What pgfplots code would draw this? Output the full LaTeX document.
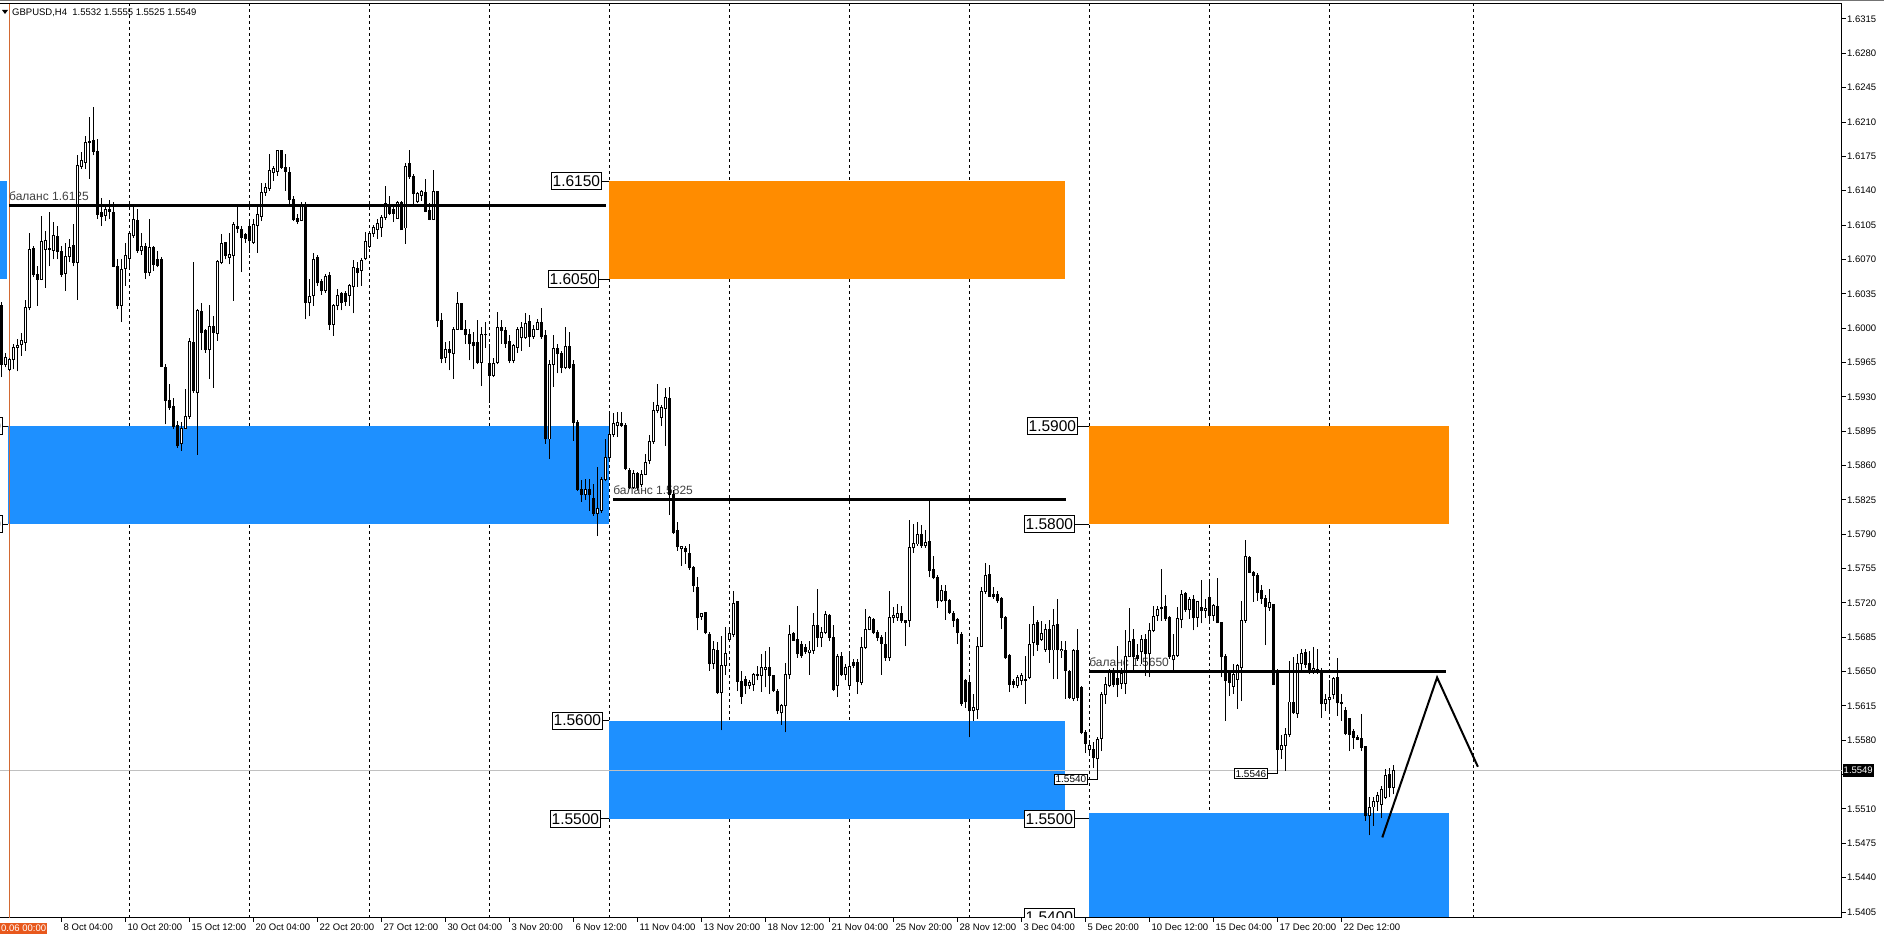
\documentclass[border=0pt]{standalone}
\usepackage{fontspec}
\setmainfont{Liberation Sans}
\usepackage{pgfplots}
\usepackage{pgfplotstable}
\pgfplotsset{compat=1.18}
\definecolor{mtblue}{RGB}{30,144,255}
\definecolor{mtorange}{RGB}{255,140,0}
\definecolor{sepline}{RGB}{210,105,50}
\definecolor{timebox}{RGB}{232,88,28}
\definecolor{bidline}{RGB}{192,192,192}

\pgfplotstableread{
i o h l c
-2 1.6023 1.6027 1.5950 1.5963
-1 1.5963 1.5975 1.5960 1.5970
0 1.5958 1.5970 1.5956 1.5968
1 1.5968 1.5984 1.5958 1.5980
2 1.5980 1.5989 1.5956 1.5982
3 1.5983 1.5995 1.5972 1.5987
4 1.5985 1.6029 1.5977 1.6021
5 1.6021 1.6097 1.6018 1.6080
6 1.6081 1.6084 1.6052 1.6055
7 1.6055 1.6063 1.6023 1.6050
8 1.6050 1.6114 1.6049 1.6088
9 1.6080 1.6099 1.6041 1.6089
10 1.6081 1.6118 1.6063 1.6080
11 1.6079 1.6108 1.6070 1.6094
12 1.6093 1.6104 1.6070 1.6078
13 1.6078 1.6084 1.6052 1.6055
14 1.6056 1.6087 1.6038 1.6073
15 1.6073 1.6091 1.6067 1.6082
16 1.6084 1.6106 1.6063 1.6067
17 1.6067 1.6176 1.6029 1.6166
18 1.6165 1.6179 1.6162 1.6171
19 1.6169 1.6196 1.6162 1.6189
20 1.6189 1.6215 1.6152 1.6190
21 1.6191 1.6225 1.6176 1.6180
22 1.6180 1.6193 1.6111 1.6116
23 1.6118 1.6133 1.6104 1.6114
24 1.6115 1.6125 1.6109 1.6121
25 1.6121 1.6131 1.6111 1.6119
26 1.6118 1.6128 1.6062 1.6063
27 1.6063 1.6070 1.6019 1.6023
28 1.6023 1.6070 1.6006 1.6060
29 1.6061 1.6087 1.6043 1.6074
30 1.6071 1.6097 1.6060 1.6096
31 1.6094 1.6123 1.6092 1.6111
32 1.6110 1.6121 1.6077 1.6079
33 1.6079 1.6097 1.6075 1.6083
34 1.6083 1.6087 1.6050 1.6057
35 1.6057 1.6111 1.6053 1.6082
36 1.6082 1.6084 1.6058 1.6065
37 1.6070 1.6079 1.6062 1.6064
38 1.6070 1.6072 1.5960 1.5961
39 1.5960 1.5963 1.5902 1.5926
40 1.5926 1.5943 1.5917 1.5919
41 1.5920 1.5929 1.5897 1.5900
42 1.5901 1.5905 1.5878 1.5880
43 1.5882 1.5904 1.5875 1.5898
44 1.5898 1.5938 1.5897 1.5910
45 1.5910 1.5990 1.5907 1.5986
46 1.5985 1.6067 1.5934 1.5936
47 1.5934 1.6019 1.5871 1.6018
48 1.6017 1.6026 1.5978 1.5996
49 1.5998 1.5999 1.5975 1.5978
50 1.5978 1.6024 1.5948 1.6002
51 1.6002 1.6012 1.5939 1.5996
52 1.5995 1.6069 1.5987 1.6068
53 1.6067 1.6096 1.6065 1.6086
54 1.6087 1.6088 1.6070 1.6074
55 1.6072 1.6097 1.6065 1.6075
56 1.6074 1.6108 1.6028 1.6106
57 1.6104 1.6123 1.6097 1.6101
58 1.6101 1.6104 1.6057 1.6092
59 1.6095 1.6097 1.6087 1.6091
60 1.6104 1.6108 1.6077 1.6089
61 1.6087 1.6111 1.6086 1.6106
62 1.6105 1.6123 1.6077 1.6116
63 1.6114 1.6148 1.6109 1.6138
64 1.6138 1.6148 1.6135 1.6143
65 1.6142 1.6177 1.6140 1.6161
66 1.6159 1.6165 1.6150 1.6163
67 1.6160 1.6182 1.6155 1.6181
68 1.6181 1.6182 1.6162 1.6164
69 1.6164 1.6177 1.6140 1.6160
70 1.6159 1.6164 1.6125 1.6131
71 1.6131 1.6135 1.6109 1.6111
72 1.6112 1.6116 1.6106 1.6109
73 1.6110 1.6128 1.6109 1.6126
74 1.6126 1.6128 1.6009 1.6026
75 1.6026 1.6050 1.6012 1.6032
76 1.6033 1.6077 1.6023 1.6070
77 1.6072 1.6074 1.6043 1.6046
78 1.6048 1.6050 1.6034 1.6038
79 1.6038 1.6055 1.6036 1.6053
80 1.6054 1.6057 1.5998 1.6004
81 1.6004 1.6025 1.5992 1.6023
82 1.6023 1.6040 1.6018 1.6033
83 1.6035 1.6037 1.6018 1.6026
84 1.6035 1.6038 1.6023 1.6027
85 1.6033 1.6045 1.6023 1.6043
86 1.6042 1.6069 1.6015 1.6062
87 1.6061 1.6067 1.6042 1.6057
88 1.6059 1.6071 1.6043 1.6069
89 1.6071 1.6098 1.6069 1.6088
90 1.6083 1.6099 1.6082 1.6096
91 1.6096 1.6105 1.6093 1.6103
92 1.6100 1.6111 1.6091 1.6107
93 1.6103 1.6115 1.6093 1.6113
94 1.6113 1.6145 1.6110 1.6127
95 1.6126 1.6135 1.6115 1.6117
96 1.6121 1.6125 1.6108 1.6117
97 1.6112 1.6130 1.6111 1.6128
98 1.6128 1.6130 1.6100 1.6100
99 1.6102 1.6168 1.6086 1.6165
100 1.6168 1.6181 1.6152 1.6154
101 1.6155 1.6157 1.6125 1.6137
102 1.6129 1.6139 1.6127 1.6137
103 1.6135 1.6141 1.6130 1.6139
104 1.6138 1.6152 1.6118 1.6119
105 1.6120 1.6127 1.6110 1.6111
106 1.6111 1.6161 1.6110 1.6139
107 1.6139 1.6140 1.6001 1.6008
108 1.6008 1.6015 1.5964 1.5969
109 1.5970 1.5986 1.5964 1.5978
110 1.5978 1.5987 1.5957 1.5975
111 1.5974 1.6001 1.5948 1.5999
112 1.5999 1.6037 1.5998 1.6025
113 1.6025 1.6025 1.5998 1.5999
114 1.5999 1.6008 1.5984 1.5993
115 1.5994 1.5999 1.5967 1.5984
116 1.5985 1.5996 1.5958 1.5982
117 1.5985 1.6008 1.5963 1.5965
118 1.5965 1.6001 1.5941 1.5993
119 1.5993 1.6006 1.5980 1.5994
120 1.5964 1.5984 1.5924 1.5952
121 1.5952 1.5970 1.5950 1.5964
122 1.5965 1.6016 1.5963 1.6001
123 1.6001 1.6008 1.5984 1.5998
124 1.5998 1.6001 1.5980 1.5984
125 1.5986 1.5993 1.5964 1.5967
126 1.5967 1.5984 1.5964 1.5982
127 1.5980 1.6001 1.5975 1.5999
128 1.5990 1.6006 1.5977 1.6001
129 1.5990 1.6015 1.5989 1.6005
130 1.6007 1.6013 1.5981 1.5991
131 1.5991 1.6003 1.5989 1.5999
132 1.5999 1.6009 1.5998 1.6006
133 1.6006 1.6020 1.5989 1.5991
134 1.5992 1.5998 1.5882 1.5887
135 1.5887 1.5967 1.5867 1.5963
136 1.5963 1.5993 1.5940 1.5979
137 1.5979 1.5984 1.5954 1.5974
138 1.5974 1.5977 1.5954 1.5960
139 1.5960 1.6001 1.5958 1.5981
140 1.5981 1.5996 1.5958 1.5960
141 1.5963 1.5967 1.5885 1.5904
142 1.5904 1.5906 1.5834 1.5836
143 1.5836 1.5845 1.5823 1.5830
144 1.5830 1.5846 1.5825 1.5836
145 1.5836 1.5846 1.5814 1.5830
146 1.5826 1.5841 1.5809 1.5811
147 1.5811 1.5858 1.5788 1.5816
148 1.5814 1.5848 1.5812 1.5846
149 1.5846 1.5887 1.5844 1.5868
150 1.5868 1.5913 1.5866 1.5892
151 1.5892 1.5913 1.5889 1.5903
152 1.5901 1.5915 1.5889 1.5904
153 1.5903 1.5915 1.5899 1.5901
154 1.5901 1.5903 1.5855 1.5857
155 1.5855 1.5857 1.5836 1.5838
156 1.5838 1.5855 1.5836 1.5852
157 1.5852 1.5853 1.5835 1.5838
158 1.5841 1.5855 1.5838 1.5851
159 1.5851 1.5872 1.5850 1.5863
160 1.5865 1.5891 1.5862 1.5884
161 1.5884 1.5925 1.5882 1.5916
162 1.5916 1.5943 1.5913 1.5921
163 1.5909 1.5922 1.5900 1.5919
164 1.5918 1.5939 1.5880 1.5929
165 1.5928 1.5940 1.5810 1.5830
166 1.5830 1.5835 1.5790 1.5792
167 1.5794 1.5802 1.5773 1.5777
168 1.5775 1.5778 1.5758 1.5777
169 1.5775 1.5778 1.5760 1.5772
170 1.5770 1.5780 1.5754 1.5756
171 1.5756 1.5758 1.5731 1.5738
172 1.5736 1.5746 1.5692 1.5705
173 1.5706 1.5710 1.5703 1.5709
174 1.5710 1.5710 1.5688 1.5690
175 1.5688 1.5690 1.5651 1.5658
176 1.5658 1.5681 1.5653 1.5673
177 1.5672 1.5680 1.5627 1.5629
178 1.5629 1.5686 1.5590 1.5656
179 1.5656 1.5695 1.5647 1.5668
180 1.5683 1.5695 1.5680 1.5689
181 1.5688 1.5732 1.5685 1.5719
182 1.5721 1.5722 1.5630 1.5640
183 1.5640 1.5651 1.5617 1.5625
184 1.5642 1.5646 1.5627 1.5636
185 1.5636 1.5641 1.5632 1.5639
186 1.5637 1.5649 1.5630 1.5647
187 1.5646 1.5656 1.5641 1.5647
188 1.5646 1.5668 1.5629 1.5654
189 1.5652 1.5671 1.5634 1.5654
190 1.5654 1.5675 1.5627 1.5646
191 1.5646 1.5647 1.5629 1.5631
192 1.5630 1.5632 1.5607 1.5610
193 1.5608 1.5617 1.5596 1.5615
194 1.5615 1.5659 1.5588 1.5647
195 1.5647 1.5697 1.5642 1.5688
196 1.5689 1.5690 1.5681 1.5682
197 1.5683 1.5717 1.5664 1.5668
198 1.5678 1.5681 1.5664 1.5666
199 1.5675 1.5678 1.5668 1.5670
200 1.5669 1.5681 1.5647 1.5672
201 1.5671 1.5710 1.5668 1.5697
202 1.5697 1.5734 1.5675 1.5685
203 1.5685 1.5695 1.5675 1.5690
204 1.5690 1.5712 1.5688 1.5708
205 1.5707 1.5709 1.5681 1.5685
206 1.5685 1.5697 1.5630 1.5632
207 1.5636 1.5668 1.5624 1.5665
208 1.5665 1.5670 1.5646 1.5647
209 1.5647 1.5658 1.5641 1.5654
210 1.5636 1.5668 1.5632 1.5655
211 1.5659 1.5663 1.5654 1.5656
212 1.5659 1.5663 1.5627 1.5640
213 1.5639 1.5685 1.5636 1.5675
214 1.5675 1.5714 1.5673 1.5693
215 1.5693 1.5707 1.5692 1.5705
216 1.5703 1.5705 1.5688 1.5690
217 1.5690 1.5692 1.5681 1.5685
218 1.5685 1.5687 1.5647 1.5679
219 1.5678 1.5690 1.5661 1.5664
220 1.5664 1.5732 1.5661 1.5705
221 1.5705 1.5716 1.5700 1.5707
222 1.5705 1.5719 1.5702 1.5709
223 1.5709 1.5717 1.5700 1.5702
224 1.5702 1.5703 1.5676 1.5700
225 1.5702 1.5804 1.5695 1.5776
226 1.5776 1.5800 1.5771 1.5781
227 1.5780 1.5802 1.5778 1.5790
228 1.5790 1.5799 1.5776 1.5778
229 1.5778 1.5794 1.5776 1.5782
230 1.5783 1.5824 1.5746 1.5753
231 1.5754 1.5768 1.5744 1.5746
232 1.5746 1.5748 1.5715 1.5722
233 1.5722 1.5738 1.5721 1.5733
234 1.5732 1.5738 1.5703 1.5722
235 1.5722 1.5724 1.5709 1.5710
236 1.5709 1.5712 1.5695 1.5702
237 1.5703 1.5705 1.5678 1.5690
238 1.5688 1.5690 1.5615 1.5617
239 1.5641 1.5642 1.5613 1.5619
240 1.5639 1.5647 1.5583 1.5610
241 1.5610 1.5627 1.5600 1.5613
242 1.5611 1.5685 1.5602 1.5676
243 1.5676 1.5736 1.5675 1.5732
244 1.5732 1.5761 1.5729 1.5748
245 1.5749 1.5759 1.5726 1.5727
246 1.5729 1.5736 1.5724 1.5726
247 1.5729 1.5732 1.5720 1.5722
248 1.5724 1.5726 1.5693 1.5705
249 1.5705 1.5707 1.5663 1.5664
250 1.5666 1.5668 1.5629 1.5637
251 1.5640 1.5642 1.5633 1.5637
252 1.5636 1.5647 1.5633 1.5644
253 1.5641 1.5649 1.5636 1.5646
254 1.5641 1.5666 1.5617 1.5642
255 1.5644 1.5698 1.5642 1.5678
256 1.5680 1.5717 1.5666 1.5698
257 1.5700 1.5703 1.5671 1.5678
258 1.5683 1.5702 1.5681 1.5689
259 1.5673 1.5698 1.5670 1.5693
260 1.5693 1.5703 1.5659 1.5673
261 1.5672 1.5714 1.5642 1.5697
262 1.5698 1.5724 1.5642 1.5672
263 1.5671 1.5681 1.5664 1.5673
264 1.5672 1.5681 1.5622 1.5651
265 1.5650 1.5652 1.5622 1.5624
266 1.5623 1.5673 1.5620 1.5671
267 1.5671 1.5693 1.5620 1.5624
268 1.5634 1.5635 1.5586 1.5588
269 1.5588 1.5590 1.5567 1.5577
270 1.5571 1.5580 1.5566 1.5575
271 1.5571 1.5578 1.5552 1.5562
272 1.5561 1.5583 1.5540 1.5581
273 1.5582 1.5629 1.5569 1.5627
274 1.5627 1.5644 1.5617 1.5637
275 1.5636 1.5653 1.5634 1.5650
276 1.5650 1.5654 1.5634 1.5637
277 1.5643 1.5676 1.5624 1.5637
278 1.5638 1.5654 1.5632 1.5648
279 1.5638 1.5692 1.5627 1.5665
280 1.5665 1.5715 1.5665 1.5681
281 1.5683 1.5693 1.5651 1.5665
282 1.5666 1.5678 1.5661 1.5663
283 1.5670 1.5687 1.5658 1.5683
284 1.5683 1.5688 1.5646 1.5668
285 1.5668 1.5699 1.5644 1.5692
286 1.5692 1.5717 1.5690 1.5706
287 1.5707 1.5717 1.5702 1.5713
288 1.5714 1.5755 1.5702 1.5715
289 1.5716 1.5728 1.5702 1.5704
290 1.5705 1.5707 1.5663 1.5665
291 1.5662 1.5688 1.5649 1.5666
292 1.5666 1.5716 1.5665 1.5704
293 1.5703 1.5733 1.5694 1.5729
294 1.5730 1.5731 1.5711 1.5713
295 1.5713 1.5726 1.5704 1.5723
296 1.5723 1.5728 1.5692 1.5705
297 1.5705 1.5722 1.5695 1.5721
298 1.5715 1.5743 1.5699 1.5712
299 1.5712 1.5724 1.5705 1.5714
300 1.5725 1.5743 1.5699 1.5707
301 1.5707 1.5719 1.5702 1.5717
302 1.5716 1.5745 1.5699 1.5700
303 1.5700 1.5700 1.5644 1.5665
304 1.5665 1.5668 1.5600 1.5641
305 1.5648 1.5648 1.5625 1.5639
306 1.5635 1.5658 1.5627 1.5647
307 1.5642 1.5658 1.5612 1.5656
308 1.5654 1.5722 1.5620 1.5702
309 1.5702 1.5784 1.5700 1.5767
310 1.5766 1.5768 1.5750 1.5751
311 1.5751 1.5753 1.5721 1.5748
312 1.5748 1.5750 1.5722 1.5731
313 1.5733 1.5738 1.5719 1.5724
314 1.5724 1.5728 1.5677 1.5716
315 1.5715 1.5734 1.5712 1.5720
316 1.5718 1.5719 1.5636 1.5637
317 1.5651 1.5653 1.5546 1.5571
318 1.5571 1.5585 1.5561 1.5575
319 1.5575 1.5593 1.5549 1.5586
320 1.5586 1.5661 1.5583 1.5619
321 1.5618 1.5665 1.5607 1.5608
322 1.5607 1.5668 1.5603 1.5658
323 1.5658 1.5673 1.5651 1.5668
324 1.5669 1.5673 1.5654 1.5657
325 1.5658 1.5671 1.5648 1.5649
326 1.5649 1.5675 1.5648 1.5653
327 1.5652 1.5673 1.5648 1.5649
328 1.5651 1.5654 1.5603 1.5617
329 1.5617 1.5627 1.5610 1.5622
330 1.5622 1.5641 1.5607 1.5624
331 1.5627 1.5644 1.5622 1.5643
332 1.5644 1.5664 1.5605 1.5618
333 1.5619 1.5627 1.5600 1.5617
334 1.5610 1.5614 1.5585 1.5587
335 1.5602 1.5603 1.5569 1.5586
336 1.5589 1.5591 1.5571 1.5583
337 1.5583 1.5585 1.5580 1.5581
338 1.5582 1.5607 1.5569 1.5573
339 1.5574 1.5574 1.5498 1.5503
340 1.5503 1.5522 1.5483 1.5512
341 1.5512 1.5522 1.5493 1.5518
342 1.5518 1.5527 1.5508 1.5524
343 1.5515 1.5533 1.5501 1.5530
344 1.5522 1.5551 1.5520 1.5544
345 1.5545 1.5552 1.5522 1.5532
346 1.5532 1.5555 1.5525 1.5549
}\candles

\tikzset{
  pbox/.style={draw=black, line width=0.8pt, fill=white, font=\fontsize{15.5}{16}\selectfont, inner xsep=1.5pt, inner ysep=3pt, anchor=east},
  sbox/.style={draw=black, line width=0.6pt, fill=white, font=\fontsize{10}{10}\selectfont, inner xsep=1pt, inner ysep=1.5pt, anchor=east},
  bal/.style={anchor=base west, font=\fontsize{12}{12}\selectfont, text=black!75, inner sep=0pt, yshift=5pt},
}

\begin{document}
\begin{tikzpicture}[x=1pt,y=1pt]
\useasboundingbox (0pt,0pt) rectangle (1884pt,939pt);
\begin{axis}[
  at={(0pt,21pt)}, anchor=south west,
  scale only axis, width=1842pt, height=915pt,
  xmin=-2.375, xmax=458.125, ymin=1.53989, ymax=1.63313,
  axis x line*=bottom, axis y line*=right,
  axis line style={black, line width=1pt},
  tick align=outside, major tick length=4pt,
  tick style={black, line width=1pt},
  xtick={13,29,...,333},
  xticklabels={8 Oct 04:00,10 Oct 20:00,15 Oct 12:00,20 Oct 04:00,22 Oct 20:00,27 Oct 12:00,30 Oct 04:00,3 Nov 20:00,6 Nov 12:00,11 Nov 04:00,13 Nov 20:00,18 Nov 12:00,21 Nov 04:00,25 Nov 20:00,28 Nov 12:00,3 Dec 04:00,5 Dec 20:00,10 Dec 12:00,15 Dec 04:00,17 Dec 20:00,22 Dec 12:00},
  xticklabel style={anchor=north west, font=\fontsize{9.5}{10}\selectfont, inner sep=0pt, xshift=2pt, yshift=-2pt},
  ytick={1.5405,1.5440,1.5475,1.5510,1.5545,1.5580,1.5615,1.5650,1.5685,1.5720,1.5755,1.5790,1.5825,1.5860,1.5895,1.5930,1.5965,1.6000,1.6035,1.6070,1.6105,1.6140,1.6175,1.6210,1.6245,1.6280,1.6315},
  yticklabels={1.5405,1.5440,1.5475,1.5510,{},1.5580,1.5615,1.5650,1.5685,1.5720,1.5755,1.5790,1.5825,1.5860,1.5895,1.5930,1.5965,1.6000,1.6035,1.6070,1.6105,1.6140,1.6175,1.6210,1.6245,1.6280,1.6315},
  yticklabel style={anchor=west, font=\fontsize{9.5}{10}\selectfont, inner sep=1pt},
  extra x ticks={30,60,90,120,150,180,210,240,270,300,330,366},
  extra x tick labels={},
  extra x tick style={grid=major, major tick length=0pt},
  major grid style={black, line width=1pt, dash pattern=on 3pt off 3pt},
  scaled y ticks=false,
]
% zones
\addplot[fill=mtblue, draw=none] coordinates {(-2.375,1.6050) (-0.625,1.6050) (-0.625,1.6150) (-2.375,1.6150)};
\addplot[fill=mtblue, draw=none] coordinates {(-0.375,1.5800) (149.875,1.5800) (149.875,1.5900) (-0.375,1.5900)};
\addplot[fill=mtorange, draw=none] coordinates {(149.875,1.6050) (263.875,1.6050) (263.875,1.6150) (149.875,1.6150)};
\addplot[fill=mtblue, draw=none] coordinates {(149.875,1.5500) (263.875,1.5500) (263.875,1.5600) (149.875,1.5600)};
\addplot[fill=mtorange, draw=none] coordinates {(269.875,1.5800) (359.875,1.5800) (359.875,1.5900) (269.875,1.5900)};
\addplot[fill=mtblue, draw=none] coordinates {(269.875,1.5400) (359.875,1.5400) (359.875,1.5506) (269.875,1.5506)};
% bid line and period separator
\addplot[bidline, line width=1pt] coordinates {(-2.375,1.5549) (458.125,1.5549)};
\addplot[sepline, line width=1pt] coordinates {(0,1.53989) (0,1.63313)};
% level captions (behind candles)
\node[bal] at (axis cs:-0.125,1.6125) {баланс 1.6125};
\node[bal] at (axis cs:150.9,1.5825) {баланс 1.5825};
\node[bal] at (axis cs:269.9,1.5650) {баланс 1.5650};
% candles: wicks
\addplot[draw=none, mark=none, error bars/.cd, y dir=plus, y explicit, error mark=none,
  error bar style={draw=black, line width=1pt}]
  table[x=i, y=l, y error expr={\thisrow{h}-\thisrow{l}}] {\candles};
% candles: bodies
\addplot[draw=none, mark=none, error bars/.cd, y dir=plus, y explicit, error mark=none,
  error bar style={draw=black, line width=3pt, line cap=butt}]
  table[x=i, y expr={min(\thisrow{o},\thisrow{c})-0.00005}, y error expr={abs(\thisrow{c}-\thisrow{o})+0.0001}] {\candles};
% bullish interiors
\addplot[draw=none, mark=none, restrict expr to domain={\thisrow{c}-\thisrow{o}}{0.00015:1},
  error bars/.cd, y dir=plus, y explicit, error mark=none,
  error bar style={draw=white, line width=1pt, line cap=butt}]
  table[x=i, y expr={\thisrow{o}+0.00005}, y error expr={\thisrow{c}-\thisrow{o}-0.0001}] {\candles};
% balance lines
\addplot[black, line width=3pt] coordinates {(-0.125,1.6125) (149.1,1.6125)};
\addplot[black, line width=3pt] coordinates {(150.9,1.5825) (264.1,1.5825)};
\addplot[black, line width=3pt] coordinates {(269.9,1.5650) (359.1,1.5650)};
% projected path
\addplot[black, line width=2pt] coordinates {(343.2,1.5481) (356.9,1.5644) (367.1,1.5553)};
% price labels
\draw[black, line width=0.8pt] (axis cs:149.875,1.6150) -- ++(-7pt,0pt) node[pbox]{1.6150};
\draw[black, line width=0.8pt] (axis cs:149.875,1.6050) -- ++(-10pt,0pt) node[pbox]{1.6050};
\draw[black, line width=0.8pt] (axis cs:149.875,1.5600) -- ++(-6pt,0pt) node[pbox]{1.5600};
\draw[black, line width=0.8pt] (axis cs:149.875,1.5500) -- ++(-8pt,0pt) node[pbox]{1.5500};
\draw[black, line width=0.8pt] (axis cs:269.875,1.5900) -- ++(-11pt,0pt) node[pbox]{1.5900};
\draw[black, line width=0.8pt] (axis cs:269.875,1.5800) -- ++(-14pt,0pt) node[pbox]{1.5800};
\draw[black, line width=0.8pt] (axis cs:269.875,1.5500) -- ++(-14pt,0pt) node[pbox]{1.5500};
\draw[black, line width=0.8pt] (axis cs:269.875,1.5400) -- ++(-14pt,0pt) node[pbox]{1.5400};
\draw[black, line width=0.8pt] (axis cs:-0.375,1.5900) -- ++(-5pt,0pt) node[pbox]{1.5900};
\draw[black, line width=0.8pt] (axis cs:-0.375,1.5800) -- ++(-5pt,0pt) node[pbox]{1.5800};
\draw[black, line width=0.6pt] (axis cs:272,1.5540) -- ++(-10pt,0pt) node[sbox]{1.5540};
\draw[black, line width=0.6pt] (axis cs:317,1.5546) -- ++(-10pt,0pt) node[sbox]{1.5546};
\end{axis}
% frame details outside the plot
\draw[black, line width=1pt] (0pt,935.5pt) -- (1842pt,935.5pt);
\fill[black!55] (0pt,938pt) rectangle (1884pt,939pt);
\node[fill=black, text=white, anchor=west, inner xsep=1pt, inner ysep=3pt, font=\fontsize{9.5}{10}\selectfont] at (1842.5pt,168.3pt) {1.5549};
\node[fill=timebox, text=white, anchor=west, inner xsep=1pt, inner ysep=2pt, font=\fontsize{9.5}{10}\selectfont] at (0pt,10.5pt) {0.06 00:00};
\node[anchor=base west, inner sep=0pt, font=\fontsize{9.5}{10}\selectfont] at (12pt,923.5pt) {GBPUSD,H4\ \ 1.5532 1.5555 1.5525 1.5549};
\fill[black] (2pt,929pt) -- (8pt,929pt) -- (5pt,925pt) -- cycle;
\end{tikzpicture}
\end{document}
